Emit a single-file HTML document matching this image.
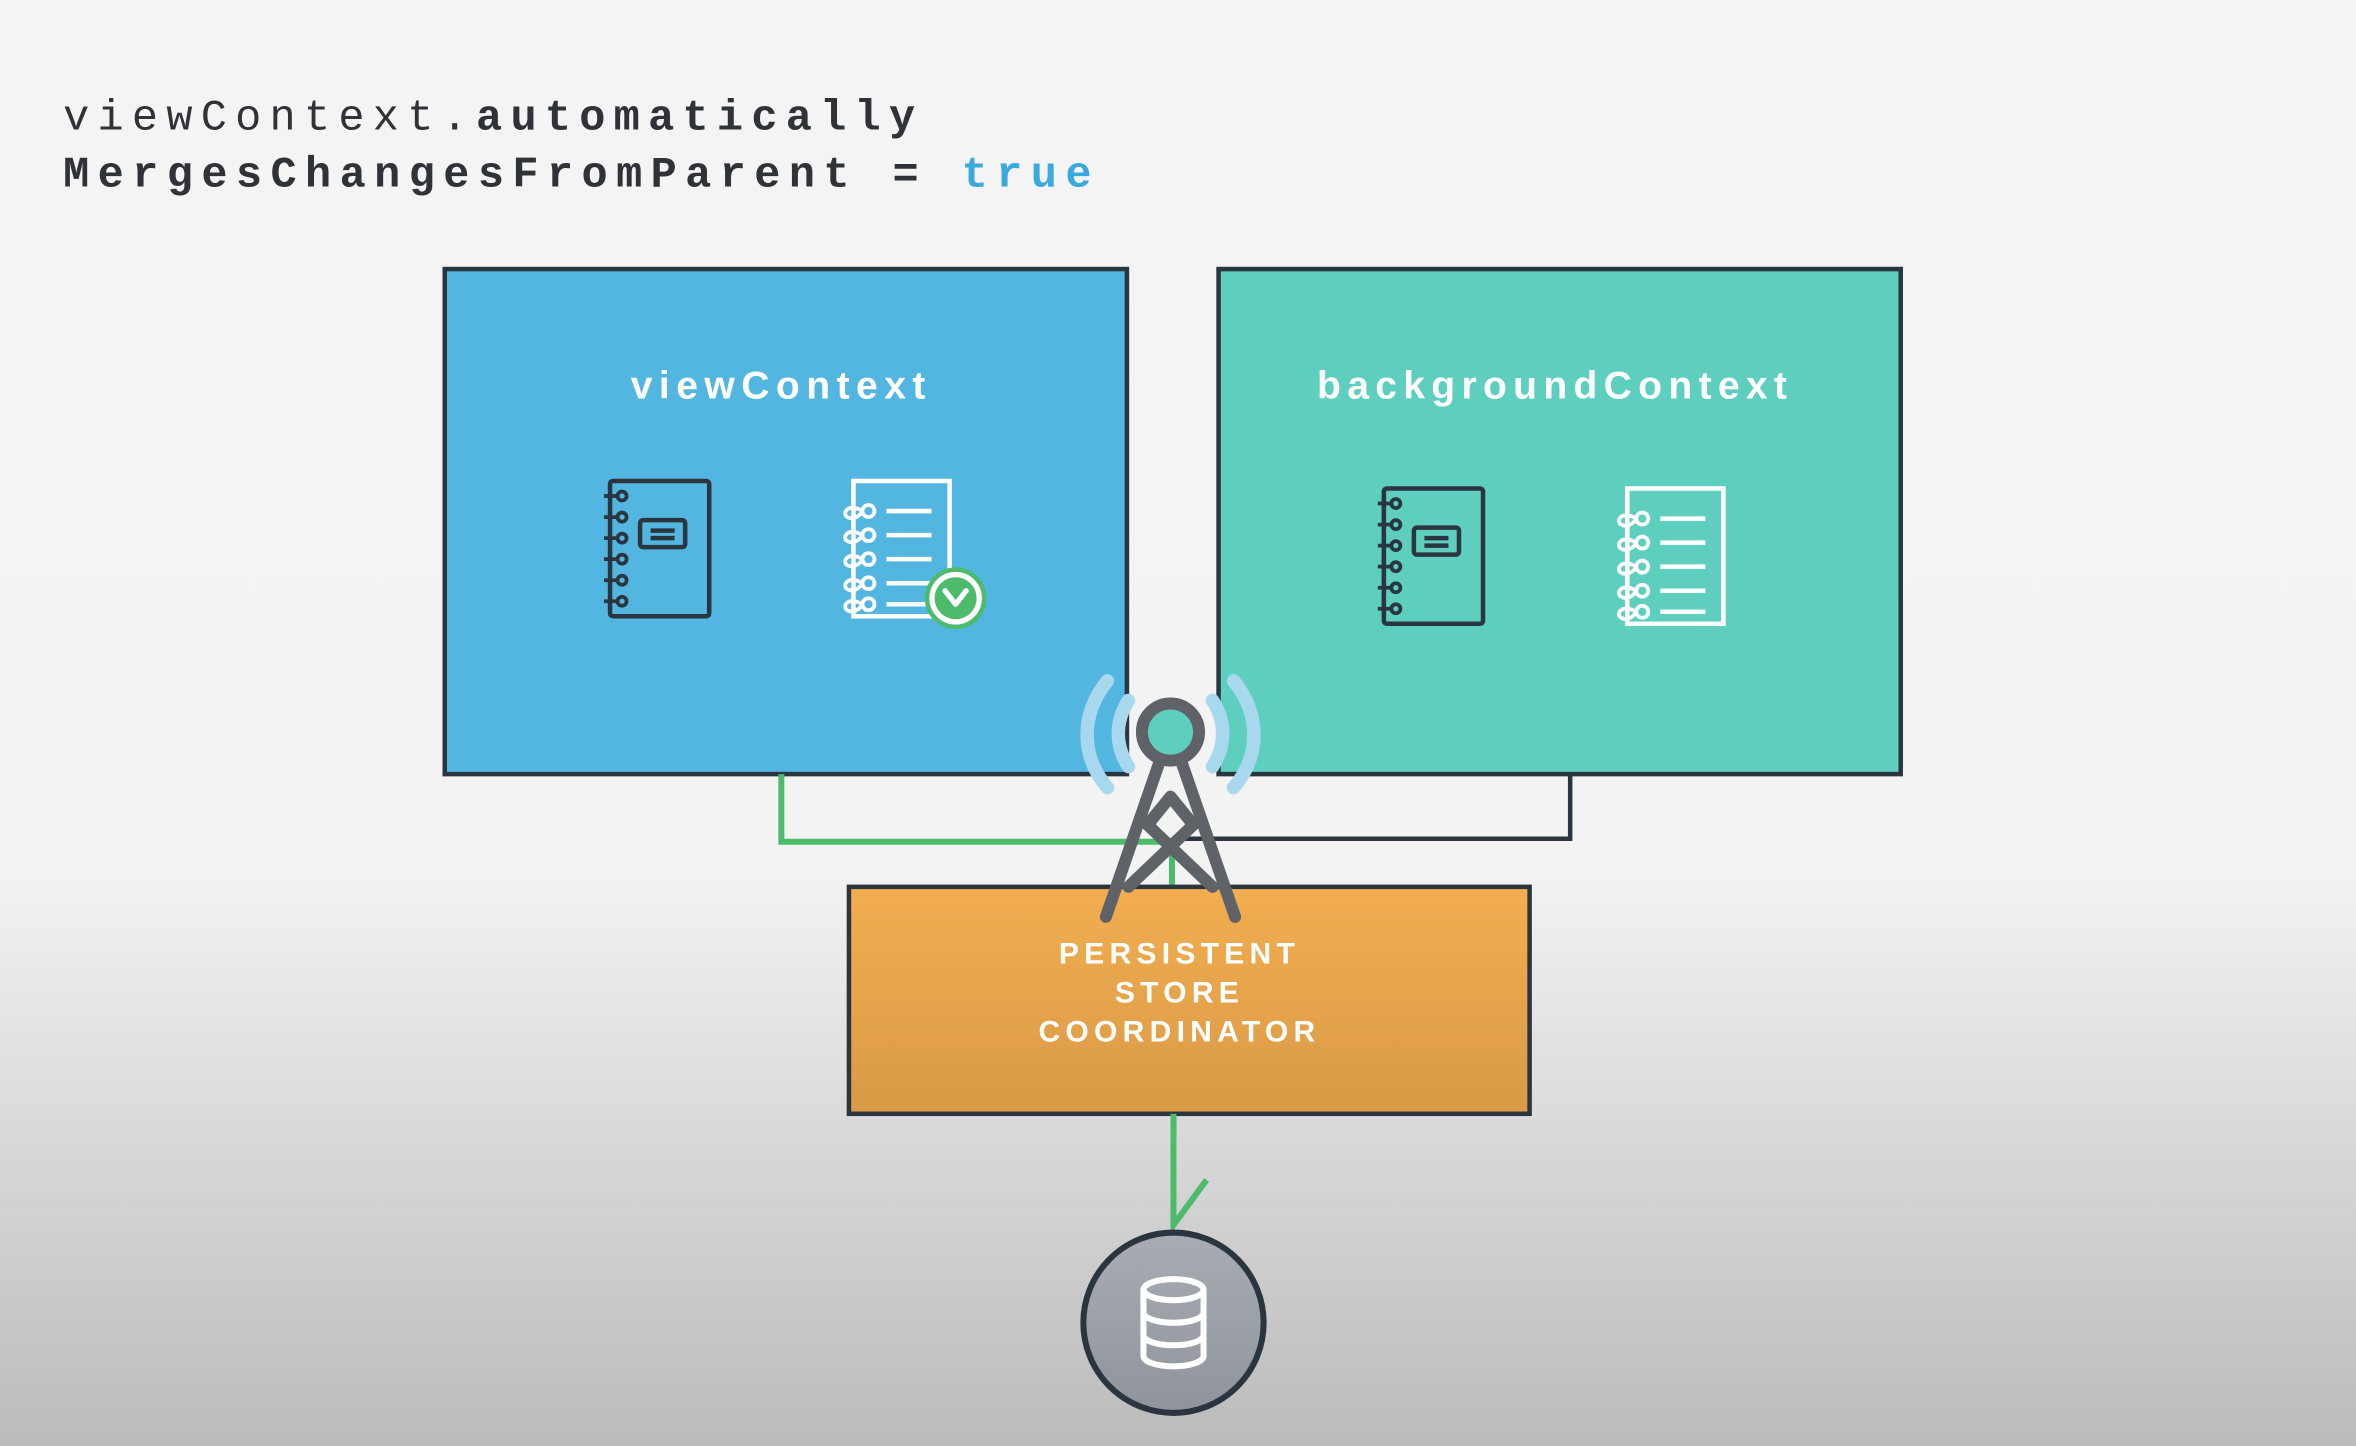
<!DOCTYPE html>
<html><head><style>
html,body{margin:0;padding:0;width:2356px;height:1446px;overflow:hidden;background:#f4f4f4}
svg{display:block}
</style></head><body>
<svg width="2356" height="1446" viewBox="0 0 1568 962" preserveAspectRatio="none" xmlns="http://www.w3.org/2000/svg">
<defs>
<linearGradient id="bg" x1="0" y1="0" x2="0" y2="1">
<stop offset="0" stop-color="#f4f4f4"/><stop offset="0.6" stop-color="#f3f3f3"/><stop offset="1" stop-color="#bbbbbb"/>
</linearGradient>
<linearGradient id="or" x1="0" y1="0" x2="0" y2="1">
<stop offset="0" stop-color="#f2ae50"/><stop offset="1" stop-color="#d99a46"/>
</linearGradient>
<linearGradient id="db" x1="0" y1="0" x2="0" y2="1">
<stop offset="0" stop-color="#a9adb3"/><stop offset="1" stop-color="#8f949b"/>
</linearGradient>
<g id="nbDark" fill="none" stroke="#2a3540" stroke-width="3">
<rect x="0" y="0" width="66" height="90" rx="2"/>
<rect x="20" y="26" width="30" height="18" rx="2"/>
<line x1="27" y1="33" x2="43" y2="33"/><line x1="27" y1="38" x2="43" y2="38"/>
<g stroke-width="2.5"><circle cx="8" cy="10" r="3"/><circle cx="8" cy="24" r="3"/><circle cx="8" cy="38" r="3"/><circle cx="8" cy="52" r="3"/><circle cx="8" cy="66" r="3"/><circle cx="8" cy="80" r="3"/>
<path d="M-4 10h9M-4 24h9M-4 38h9M-4 52h9M-4 66h9M-4 80h9"/></g>
</g>
<g id="nbWhite" fill="none" stroke="#fff" stroke-width="3">
<rect x="10" y="0" width="64" height="90"/>
<g stroke-width="2.5"><circle cx="20" cy="20" r="4"/><circle cx="20" cy="36" r="4"/><circle cx="20" cy="52" r="4"/><circle cx="20" cy="68" r="4"/><circle cx="20" cy="82" r="4"/>
<path d="M16 20c-10-6-14 2-10 4 3 2 8 0 10-4M16 36c-10-6-14 2-10 4 3 2 8 0 10-4M16 52c-10-6-14 2-10 4 3 2 8 0 10-4M16 68c-10-6-14 2-10 4 3 2 8 0 10-4M16 82c-10-6-14 2-10 4 3 2 8 0 10-4"/></g>
<path d="M32 20h30M32 36h30M32 52h30M32 68h30M32 82h30"/>
</g>
</defs>
<rect width="1568" height="962" fill="url(#bg)"/>
<text x="42" y="86" font-family="Liberation Mono, monospace" font-size="29" letter-spacing="5.5" fill="#2f3338">viewContext.<tspan font-weight="bold">automatically</tspan></text>
<text x="42" y="124" font-family="Liberation Mono, monospace" font-size="29" letter-spacing="5.6" font-weight="bold" fill="#2f3338">MergesChangesFromParent = <tspan fill="#3aa9dd">true</tspan></text>

<rect x="296" y="179" width="454" height="336" fill="#52b6e0" stroke="#2a3540" stroke-width="3"/>
<rect x="811" y="179" width="454" height="336" fill="#5ecfbf" stroke="#2a3540" stroke-width="3"/>
<text x="520" y="265" text-anchor="middle" font-family="Liberation Sans, sans-serif" font-weight="bold" font-size="26" letter-spacing="4.3" fill="#fff">viewContext</text>
<text x="1035" y="265" text-anchor="middle" font-family="Liberation Sans, sans-serif" font-weight="bold" font-size="26" letter-spacing="4.2" fill="#fff">backgroundContext</text>

<use href="#nbDark" x="406" y="320"/>
<use href="#nbWhite" x="558" y="320"/>
<circle cx="636" cy="398" r="19" fill="#fff" stroke="#4cbb6c" stroke-width="3"/>
<circle cx="636" cy="398" r="14" fill="#4cbb6c"/>
<path d="M629 393l7 9 7-9" fill="none" stroke="#fff" stroke-width="3.5" stroke-linecap="round" stroke-linejoin="round"/>
<use href="#nbDark" x="921" y="325"/>
<use href="#nbWhite" x="1073" y="325"/>

<path d="M1045 515V558H780" fill="none" stroke="#2a3540" stroke-width="3"/>
<path d="M520 515V560H780V590" fill="none" stroke="#4cbb6c" stroke-width="4"/>

<rect x="565" y="590" width="453" height="151" fill="url(#or)" stroke="#2a3540" stroke-width="3"/>
<g font-family="Liberation Sans, sans-serif" font-weight="bold" font-size="20" letter-spacing="3.5" fill="#fff" text-anchor="middle">
<text x="785" y="641">PERSISTENT</text><text x="785" y="667">STORE</text><text x="785" y="693">COORDINATOR</text>
</g>

<path d="M781 741V815L803 785" fill="none" stroke="#4cbb6c" stroke-width="4"/>
<circle cx="781" cy="880" r="60" fill="url(#db)" stroke="#2a3540" stroke-width="4"/>
<g fill="none" stroke="#fff" stroke-width="4">
<ellipse cx="781" cy="858" rx="20" ry="7"/>
<path d="M761 858v44c0 4 9 7 20 7s20-3 20-7v-44M761 873c0 4 9 7 20 7s20-3 20-7M761 888c0 4 9 7 20 7s20-3 20-7"/>
</g>

<g fill="none" stroke="#a8d8ee" stroke-width="9" stroke-linecap="round">
<path d="M751 466c-9 14-9 30 0 44"/><path d="M737 453c-18 22-18 50 0 71"/>
<path d="M807 466c9 14 9 30 0 44"/><path d="M821 453c18 22 18 50 0 71"/>
</g>
<g fill="none" stroke="#5f6368" stroke-width="8" stroke-linecap="round" stroke-linejoin="round">
<path d="M772 506L736 610M786 506L822 610"/>
<path d="M766 546L779 530L792 546"/>
<path d="M763 548L807 590M795 548L751 590"/>
</g>
<circle cx="779" cy="487" r="19" fill="#5ecfbf" stroke="#5f6368" stroke-width="8"/>
</svg>
</body></html>
